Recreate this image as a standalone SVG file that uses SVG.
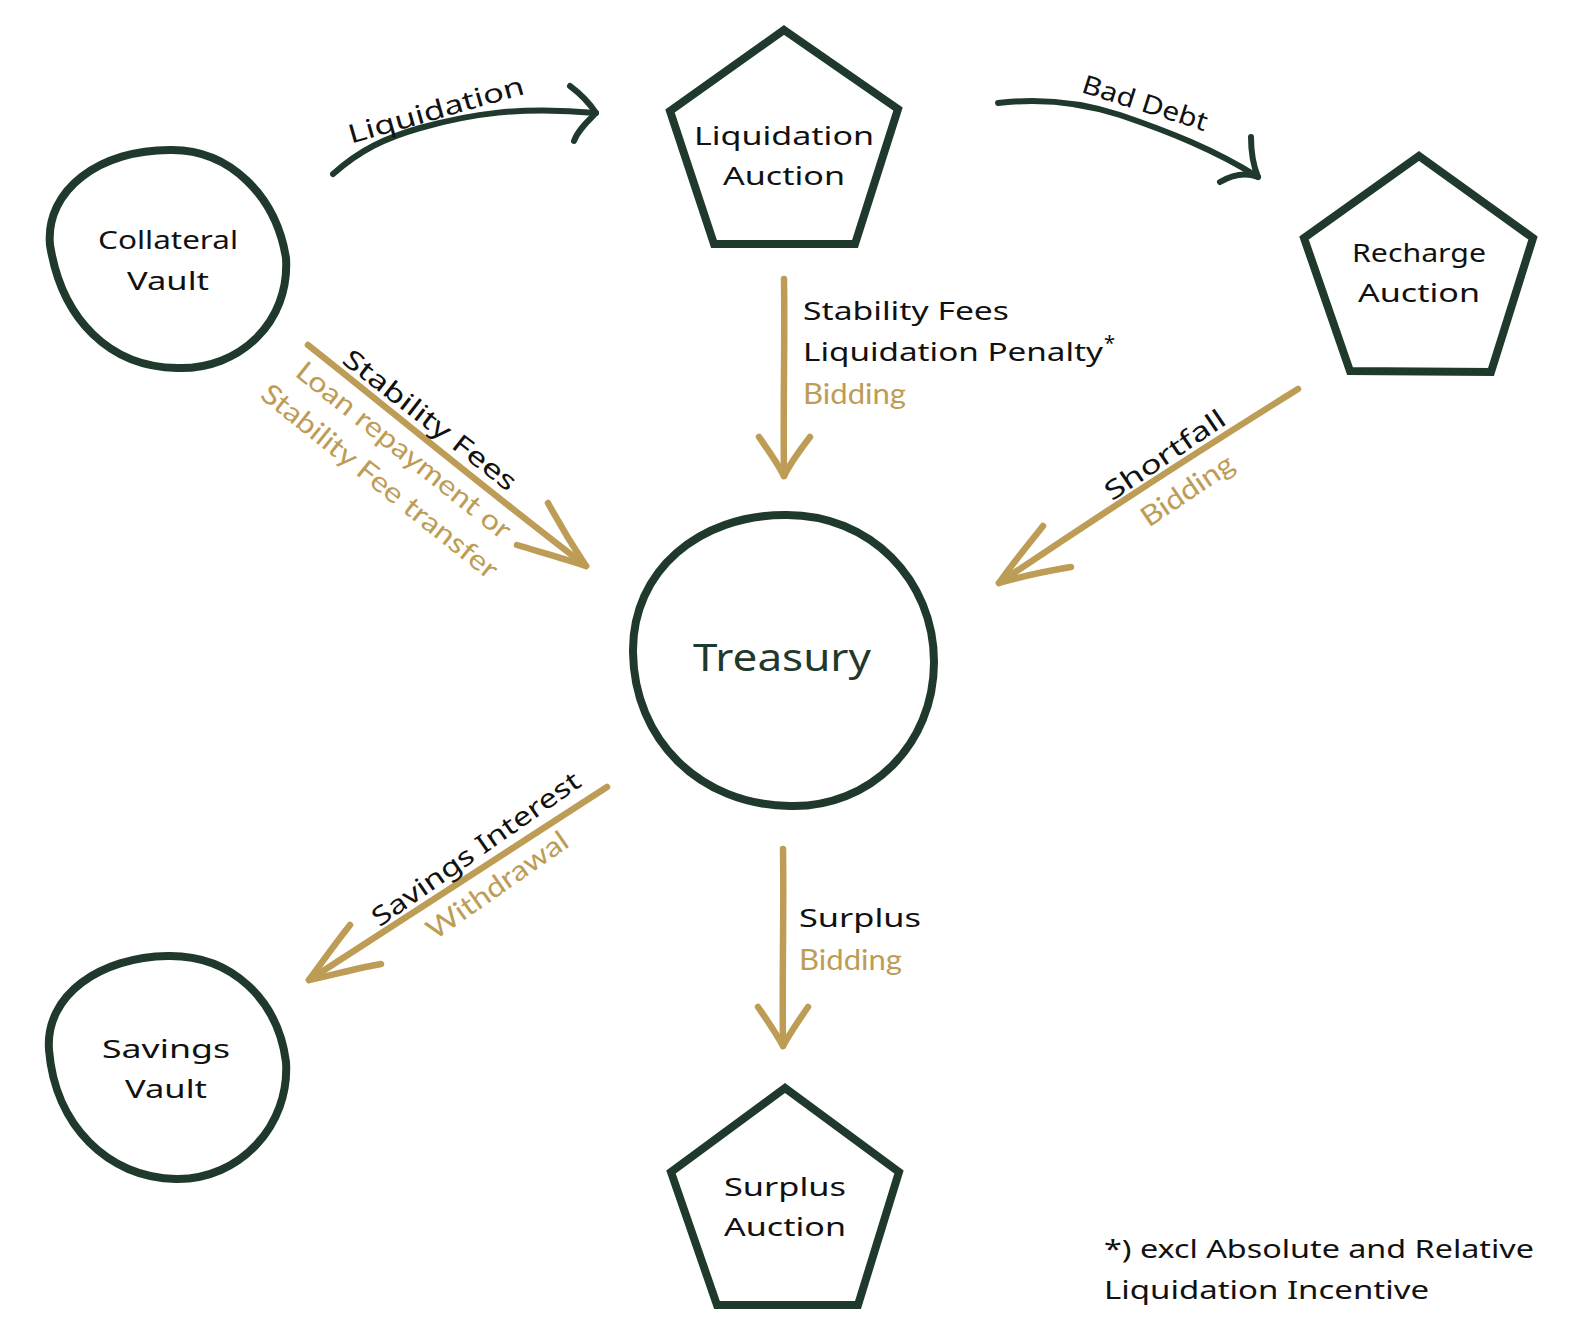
<svg xmlns="http://www.w3.org/2000/svg" width="1584" height="1336" viewBox="0 0 1584 1336">
<style>
.shape{fill:none;stroke:#1f3a2c;stroke-width:8;stroke-linejoin:round;stroke-linecap:round}
.dark{fill:none;stroke:#1f3a2c;stroke-width:6;stroke-linecap:round;stroke-linejoin:round}
.gold{fill:none;stroke:#bd9c56;stroke-width:6.5;stroke-linecap:round;stroke-linejoin:round}
.lbl{font-family:"Noto Sans","DejaVu Sans",sans-serif;font-size:26px;fill:#111}
.node{font-family:"Noto Sans","DejaVu Sans",sans-serif;font-size:26px;fill:#111;text-anchor:middle}
.gtx{font-family:Lato,"Open Sans",sans-serif;font-size:28px;fill:#bd9c56}
</style>
<rect width="1584" height="1336" fill="#ffffff"/>
<g id="connectors">
  <g id="c-liquidation">
    <path class="dark" d="M333,174 C360,150 385,138 420,128 C470,114 520,106 596,113"/>
    <path class="dark" d="M570,86 C582,95 590,104 596,113 C588,121 578,130 574,141"/>
    <text class="lbl" transform="translate(436,110) rotate(-16)" text-anchor="middle" y="9" textLength="182" lengthAdjust="spacingAndGlyphs">Liquidation</text>
  </g>
  <g id="c-baddebt">
    <path class="dark" d="M998,103 C1040,98 1080,102 1120,115 C1170,132 1215,150 1258,177"/>
    <path class="dark" d="M1251,137 C1251,152 1253,165 1258,177 C1245,172 1232,175 1220,182"/>
    <text class="lbl" transform="translate(1145,103) rotate(17.5)" text-anchor="middle" y="9" textLength="130" lengthAdjust="spacingAndGlyphs">Bad Debt</text>
  </g>
  <g id="c-liq-treasury">
    <path class="gold" d="M784,279 C785,340 783,400 784,476"/>
    <path class="gold" d="M759,437 C768,450 777,462 784,476 C791,462 800,450 810,437"/>
    <text class="lbl" x="803" y="320" textLength="206" lengthAdjust="spacingAndGlyphs">Stability Fees</text>
    <text class="lbl" x="803" y="361" textLength="300" lengthAdjust="spacingAndGlyphs">Liquidation Penalty</text>
    <text class="lbl" x="1104" y="350" style="font-size:20px">*</text>
    <text class="gtx" x="803" y="404" textLength="103" lengthAdjust="spacingAndGlyphs">Bidding</text>
  </g>
  <g id="c-vault-treasury">
    <path class="gold" d="M308,345 C390,410 480,485 586,566"/>
    <path class="gold" d="M548,503 C560,525 572,545 586,566 C563,558 540,552 517,545"/>
    <text class="lbl" transform="translate(430,420) rotate(37.8)" text-anchor="middle" y="9" textLength="212" lengthAdjust="spacingAndGlyphs">Stability Fees</text>
    <text class="gtx" transform="translate(404,450) rotate(38.5)" text-anchor="middle" y="10" textLength="266" lengthAdjust="spacingAndGlyphs">Loan repayment or</text>
    <text class="gtx" transform="translate(380,481) rotate(38.5)" text-anchor="middle" y="10" textLength="294" lengthAdjust="spacingAndGlyphs">Stability Fee transfer</text>
  </g>
  <g id="c-recharge-treasury">
    <path class="gold" d="M1298,389 C1200,450 1100,515 999,583"/>
    <path class="gold" d="M1043,526 C1028,545 1013,563 999,583 C1023,576 1047,571 1071,567"/>
    <text class="lbl" transform="translate(1165,455) rotate(-34)" text-anchor="middle" y="9" textLength="140" lengthAdjust="spacingAndGlyphs">Shortfall</text>
    <text class="gtx" transform="translate(1187,490) rotate(-34)" text-anchor="middle" y="10" textLength="106" lengthAdjust="spacingAndGlyphs">Bidding</text>
  </g>
  <g id="c-treasury-savings">
    <path class="gold" d="M607,787 C510,850 410,915 309,980"/>
    <path class="gold" d="M350,925 C335,944 322,962 309,980 C333,975 357,968 381,964"/>
    <text class="lbl" transform="translate(476,849) rotate(-35)" text-anchor="middle" y="9" textLength="248" lengthAdjust="spacingAndGlyphs">Savings Interest</text>
    <text class="gtx" transform="translate(497,885) rotate(-35)" text-anchor="middle" y="10" textLength="166" lengthAdjust="spacingAndGlyphs">Withdrawal</text>
  </g>
  <g id="c-treasury-surplus">
    <path class="gold" d="M783,849 C784,910 782,980 783,1046"/>
    <path class="gold" d="M758,1007 C767,1020 776,1033 783,1046 C790,1033 799,1020 808,1007"/>
    <text class="lbl" x="799" y="927" textLength="122" lengthAdjust="spacingAndGlyphs">Surplus</text>
    <text class="gtx" x="799" y="970" textLength="103" lengthAdjust="spacingAndGlyphs">Bidding</text>
  </g>
</g>
<g id="collateral-vault">
  <path class="shape" d="M172,150 C230,150 276,196 286,258 C290,322 240,370 177,368 C110,367 62,320 50,245 C45,190 100,149 172,150 Z"/>
  <text class="node" x="168" y="249" textLength="140" lengthAdjust="spacingAndGlyphs">Collateral</text>
  <text class="node" x="168" y="290" textLength="82" lengthAdjust="spacingAndGlyphs">Vault</text>
</g>
<g id="liquidation-auction">
  <polygon class="shape" points="784,30 898,109 855,244 714,244 670,111" style="stroke-linejoin:miter"/>
  <text class="node" x="784" y="145" textLength="180" lengthAdjust="spacingAndGlyphs">Liquidation</text>
  <text class="node" x="784" y="185" textLength="122" lengthAdjust="spacingAndGlyphs">Auction</text>
</g>
<g id="recharge-auction">
  <polygon class="shape" points="1419,156 1533,238 1491,372 1350,371 1304,238" style="stroke-linejoin:miter"/>
  <text class="node" x="1419" y="262" textLength="134" lengthAdjust="spacingAndGlyphs">Recharge</text>
  <text class="node" x="1419" y="302" textLength="122" lengthAdjust="spacingAndGlyphs">Auction</text>
</g>
<g id="treasury">
  <path class="shape" d="M785,515 C870,514 934,580 934,662 C934,745 870,808 790,806 C700,805 634,740 633,652 C632,570 700,515 785,515 Z"/>
  <text class="node" x="782" y="671" style="font-size:38px;fill:#1f3a2c" textLength="178" lengthAdjust="spacingAndGlyphs">Treasury</text>
</g>
<g id="savings-vault">
  <path class="shape" d="M168,956 C232,955 278,1000 286,1062 C290,1125 240,1180 176,1179 C108,1178 55,1125 49,1050 C45,995 100,957 168,956 Z"/>
  <text class="node" x="166" y="1058" textLength="128" lengthAdjust="spacingAndGlyphs">Savings</text>
  <text class="node" x="166" y="1098" textLength="82" lengthAdjust="spacingAndGlyphs">Vault</text>
</g>
<g id="surplus-auction">
  <polygon class="shape" points="785,1088 899,1172 858,1305 717,1305 671,1172" style="stroke-linejoin:miter"/>
  <text class="node" x="785" y="1196" textLength="122" lengthAdjust="spacingAndGlyphs">Surplus</text>
  <text class="node" x="785" y="1236" textLength="122" lengthAdjust="spacingAndGlyphs">Auction</text>
</g>
<g id="footnote">
  <text class="lbl" x="1104" y="1258" textLength="430" lengthAdjust="spacingAndGlyphs">*) excl Absolute and Relative</text>
  <text class="lbl" x="1104" y="1299" textLength="325" lengthAdjust="spacingAndGlyphs">Liquidation Incentive</text>
</g>
</svg>
